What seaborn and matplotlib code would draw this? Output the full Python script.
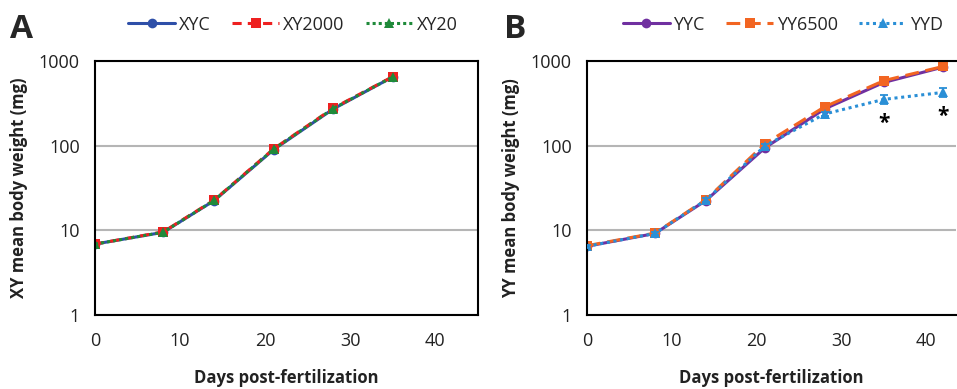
import numpy as np
import pandas as pd
import matplotlib
matplotlib.use("Agg")
import matplotlib.pyplot as plt
import matplotlib.ticker as mticker
import seaborn as sns

# Panel A: XY fish
days_a = [0, 8, 14, 21, 28, 35]
xyc = [6.9, 9.5, 22.5, 90, 272, 650]
xy2000 = [6.9, 9.6, 22.8, 92, 278, 655]
xy20 = [6.9, 9.5, 22.6, 91, 275, 650]

# Panel B: YY fish
days_b = [0, 8, 14, 21, 28, 35, 42]
yyc = [6.5, 9.2, 22.5, 95, 272, 560, 850]
yy6500 = [6.6, 9.3, 23.0, 106, 288, 588, 865]
yyd = [6.5, 9.2, 22.8, 100, 237, 353, 427]
yyd_err = [0.3, 0.4, 1.2, 5, 15, 45, 55]
sig_days = [35, 42]

yticks = [1, 10, 100, 1000]
ytick_labels = ["1", "10", "100", "1000"]
xticks = [0, 10, 20, 30, 40]

df_a = pd.DataFrame({
    "day": days_a * 3,
    "weight": xyc + xy2000 + xy20,
    "group": ["XYC"] * 6 + ["XY2000"] * 6 + ["XY20"] * 6,
})
df_b = pd.DataFrame({
    "day": days_b * 3,
    "weight": yyc + yy6500 + yyd,
    "group": ["YYC"] * 7 + ["YY6500"] * 7 + ["YYD"] * 7,
})

sns.set_theme(style="white")
plt.rcParams["font.family"] = ["Open Sans", "DejaVu Sans"]

fig = plt.figure(figsize=(9.57, 3.89), dpi=100)
ax_a = fig.add_axes([0.0993, 0.190, 0.4, 0.653])
ax_b = fig.add_axes([0.6134, 0.190, 0.3856, 0.653])

pal_a = {"XYC": "#2e4fa8", "XY2000": "#ee2020", "XY20": "#1f8a3a"}
pal_b = {"YYC": "#7030a0", "YY6500": "#f26522", "YYD": "#2a8fd6"}
dash_a = {"XYC": "", "XY2000": (3, 2), "XY20": (1, 1)}
dash_b = {"YYC": "", "YY6500": (4.5, 2.2), "YYD": (1, 1.2)}
mark_a = {"XYC": "o", "XY2000": "s", "XY20": "^"}
mark_b = {"YYC": "o", "YY6500": "s", "YYD": "^"}

sns.lineplot(data=df_a, x="day", y="weight", hue="group", style="group",
             palette=pal_a, dashes=dash_a, markers=mark_a, markersize=7,
             markeredgewidth=0, linewidth=2.2, ax=ax_a)
sns.lineplot(data=df_b, x="day", y="weight", hue="group", style="group",
             palette=pal_b, dashes=dash_b, markers=mark_b, markersize=7,
             markeredgewidth=0, linewidth=2.2, ax=ax_b)

ax_b.errorbar(days_b, yyd, yerr=yyd_err, fmt="none", ecolor=pal_b["YYD"],
              elinewidth=1.3, capsize=3, capthick=1.3, zorder=5)
for d in sig_days:
    i = days_b.index(d)
    ax_b.annotate("*", (d, yyd[i] - yyd_err[i]), xytext=(0, -6),
                  textcoords="offset points", ha="center", va="top",
                  fontsize=15, fontweight="bold", color="black")

for ax, xmax, ylab in [(ax_a, 45, "XY mean body weight (mg)"),
                       (ax_b, 43.5, "YY mean body weight (mg)")]:
    ax.set_yscale("log")
    ax.set_ylim(1, 1000)
    ax.set_xlim(0, xmax)
    ax.set_yticks(yticks)
    ax.set_yticklabels(ytick_labels)
    ax.yaxis.set_minor_locator(mticker.LogLocator(base=10, subs=np.arange(2, 10)))
    ax.yaxis.set_minor_formatter(mticker.NullFormatter())
    ax.set_xticks(xticks)
    ax.xaxis.set_minor_locator(mticker.MultipleLocator(5))
    ax.tick_params(axis="both", which="both", direction="in", labelsize=13,
                   color="black", width=1.2, labelcolor="#222222")
    ax.tick_params(axis="y", which="major", length=5, pad=11)
    ax.tick_params(axis="y", which="minor", length=4)
    ax.tick_params(axis="x", which="major", length=7, pad=12)
    ax.tick_params(axis="x", which="minor", length=5)
    ax.yaxis.grid(True, which="major", color="#b5b5b5", linewidth=1.5)
    ax.set_axisbelow(True)
    for s in ax.spines.values():
        s.set_color("black")
        s.set_linewidth(1.5)
    ax.set_xlabel("Days post-fertilization", fontsize=12, fontweight="bold",
                  labelpad=14, color="#222222")
    ax.set_ylabel(ylab, fontsize=12, fontweight="bold", labelpad=8,
                  color="#222222")

ax_b.spines["right"].set_visible(False)

for ax, cx in [(ax_a, 0.306), (ax_b, 0.818)]:
    h, l = ax.get_legend_handles_labels()
    ax.legend(h, l, loc="center", bbox_to_anchor=(cx, 0.937),
              bbox_transform=fig.transFigure, ncol=3, frameon=False,
              fontsize=13, handlelength=2.6, handletextpad=0.2,
              columnspacing=1.2)

fig.text(0.010, 0.902, "A", fontsize=24, fontweight="bold", va="baseline")
fig.text(0.527, 0.902, "B", fontsize=24, fontweight="bold", va="baseline")

fig.savefig("out.png", dpi=100)
